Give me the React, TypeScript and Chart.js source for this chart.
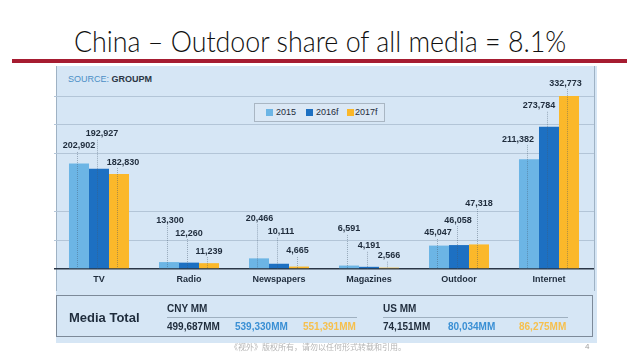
import React, { useEffect, useRef } from "react";
import { Chart, registerables } from "chart.js";

Chart.register(...registerables);

const categories = ["TV", "Radio", "Newspapers", "Magazines", "Outdoor", "Internet"];
const series2015 = [202902, 13300, 20466, 6591, 45047, 211382];
const series2016f = [192927, 12260, 10111, 4191, 46058, 273784];
const series2017f = [182830, 11239, 4665, 2566, 47318, 332773];
const seriesNames = ["2015", "2016f", "2017f"];
const cnyTotals = ["499,687MM", "539,330MM", "551,391MM"];
const usTotals = ["74,151MM", "80,034MM", "86,275MM"];
const titleText = "China – Outdoor share of all media = 8.1%";
const footerText = "《视外》版权所有，请勿以任何形式转载和引用。";

// label placement styles (pixel lift above bar top, horizontal nudge)
const labelLift = [
  [17.6, 42, 40, 36.6, 12.6, 20],
  [35, 29.6, 32, 21, 25, 21],
  [12, 12, 15.6, 12, 41.4, 13],
];
const labelNudge = [
  [0, 1, 0.5, 0, -1, -11],
  [3, 0, 2, 0, -1, -10],
  [4, 0, -1.5, 0, 0, -3.5],
];

const colors = ["#6cb5e5", "#1d70c2", "#fbb82a"];
const navy = "#1f2c3c";
const chartFont = "'Liberation Sans', Arial, sans-serif";

const fmt = (v: number) => v.toLocaleString("en-US");

const labelPlugin = {
  id: "valueLabels",
  afterDatasetsDraw(chart: any) {
    const ctx = chart.ctx;
    const bottom = chart.chartArea.bottom;
    ctx.save();
    chart.data.datasets.forEach((ds: any, i: number) => {
      const meta = chart.getDatasetMeta(i);
      meta.data.forEach((bar: any, j: number) => {
        const x = bar.x + labelNudge[i][j];
        const y = bar.y - labelLift[i][j];
        ctx.beginPath();
        ctx.setLineDash([1, 1]);
        ctx.strokeStyle = "rgba(70,90,110,0.55)";
        ctx.lineWidth = 0.8;
        ctx.moveTo(bar.x - 1.5, y + 6);
        ctx.lineTo(bar.x - 1.5, bottom);
        ctx.stroke();
        ctx.setLineDash([]);
        ctx.fillStyle = navy;
        ctx.font = `bold 9px ${chartFont}`;
        ctx.textAlign = "center";
        ctx.textBaseline = "middle";
        ctx.fillText(fmt(ds.data[j]), x, y);
      });
    });
    ctx.restore();
  },
};

function Txt(props: { x: number; cy: number; size: number; color?: string; bold?: boolean; children: any; family?: string }) {
  const h = props.size * 1.4;
  return (
    <div
      style={{
        position: "absolute",
        left: props.x,
        top: props.cy - h / 2,
        lineHeight: `${h}px`,
        fontSize: props.size,
        fontWeight: props.bold ? 700 : 400,
        color: props.color || navy,
        fontFamily: props.family || chartFont,
        whiteSpace: "nowrap",
      }}
    >
      {props.children}
    </div>
  );
}

export default function App() {
  const ref = useRef<HTMLCanvasElement | null>(null);
  useEffect(() => {
    if (!ref.current) return;
    const seriesData = [series2015, series2016f, series2017f];
    const chart = new Chart(ref.current, {
      type: "bar",
      data: {
        labels: categories,
        datasets: seriesNames.map((n, i) => ({
          label: n,
          data: seriesData[i],
          backgroundColor: colors[i],
          borderWidth: 0,
          categoryPercentage: 0.667,
          barPercentage: 1,
        })),
      },
      options: {
        animation: false,
        responsive: false,
        maintainAspectRatio: false,
        devicePixelRatio: 1,
        layout: { padding: { left: 54, right: 46, top: 96, bottom: 0 } },
        plugins: { legend: { display: false }, tooltip: { enabled: false } },
        scales: {
          x: {
            grid: { display: false, drawTicks: false },
            border: { display: false },
            ticks: { color: navy, font: { family: chartFont, size: 9, weight: "bold" }, padding: 5 },
            afterFit: (s: any) => {
              s.height = 31;
            },
          },
          y: {
            min: 0,
            max: 333000,
            ticks: { display: false, stepSize: 55500 },
            border: { display: false },
            grid: {
              drawTicks: false,
              color: (c: any) => {
                const v = c.tick ? c.tick.value : -1;
                if (v === 0) return "#2a3646";
                if (v === 166500) return "rgba(0,0,0,0)";
                return "#b3c5d7";
              },
              lineWidth: (c: any) => (c.tick && c.tick.value === 0 ? 1.6 : 1),
            },
            afterFit: (s: any) => {
              s.width = 0;
            },
          },
        },
      },
      plugins: [labelPlugin],
    } as any);
    return () => chart.destroy();
  }, []);

  const legendX = [266, 306, 347];
  const legendTextX = [276, 316, 355];

  return (
    <div style={{ position: "fixed", left: 0, top: 0, width: 640, height: 360, background: "#ffffff", overflow: "hidden" }}>
      <div
        style={{
          position: "absolute",
          left: 0,
          width: 640,
          top: 21,
          lineHeight: "40px",
          textAlign: "center",
          fontFamily: "Lato, sans-serif",
          fontWeight: 300,
          fontSize: 29,
          color: "#111111",
          whiteSpace: "nowrap",
          transform: "scaleX(0.925)",
          transformOrigin: "321px 20px",
        }}
      >
        {titleText}
      </div>
      <div style={{ position: "absolute", left: 12, top: 59, width: 615, height: 4, background: "#a61c31" }} />
      <div style={{ position: "absolute", left: 56, top: 66, width: 541, height: 277, background: "#d6e6f5" }} />
      <div style={{ position: "absolute", left: 56, top: 66, width: 1, height: 225, background: "#9fb2c4" }} />
      <div style={{ position: "absolute", left: 594, top: 66, width: 1, height: 225, background: "#9fb2c4" }} />
      <div style={{ position: "absolute", left: 68, top: 72, lineHeight: "14px", fontSize: 9, fontFamily: chartFont, whiteSpace: "nowrap" }}>
        <span style={{ color: "#4b8fc6" }}>SOURCE: </span>
        <span style={{ color: "#2b3544", fontWeight: 700 }}>GROUPM</span>
      </div>
      <canvas ref={ref} width={640} height={300} style={{ position: "absolute", left: 0, top: 0, width: 640, height: 300 }} />
      <div
        style={{
          position: "absolute",
          left: 254,
          top: 103,
          width: 131,
          height: 19,
          boxSizing: "border-box",
          border: "1px solid #a9b6c3",
          background: "#dbe8f5",
        }}
      />
      {seriesNames.map((n, i) => (
        <React.Fragment key={n}>
          <div style={{ position: "absolute", left: legendX[i], top: 109, width: 7, height: 7, background: colors[i] }} />
          <Txt x={legendTextX[i]} cy={112.5} size={9}>
            {n}
          </Txt>
        </React.Fragment>
      ))}
      <div
        style={{
          position: "absolute",
          left: 56,
          top: 295,
          width: 537,
          height: 42,
          boxSizing: "border-box",
          border: "1px solid #7d8a99",
        }}
      />
      <Txt x={69} cy={318} size={13} bold>
        Media Total
      </Txt>
      <Txt x={167} cy={309} size={10} bold>
        CNY MM
      </Txt>
      <div style={{ position: "absolute", left: 167, top: 317, width: 190, height: 1, background: "#9fb0c0" }} />
      <Txt x={383} cy={309} size={10} bold>
        US MM
      </Txt>
      <div style={{ position: "absolute", left: 383, top: 317, width: 185, height: 1, background: "#9fb0c0" }} />
      {cnyTotals.map((t, i) => (
        <Txt key={t} x={[167, 235, 303][i]} cy={327} size={10} bold color={[navy, "#3a8fd4", "#f6c04e"][i]}>
          {t}
        </Txt>
      ))}
      {usTotals.map((t, i) => (
        <Txt key={t} x={[383, 448, 519][i]} cy={327} size={10} bold color={[navy, "#3a8fd4", "#f6c04e"][i]}>
          {t}
        </Txt>
      ))}
      <div
        style={{
          position: "absolute",
          left: 0,
          width: 636,
          top: 340,
          lineHeight: "14px",
          textAlign: "center",
          fontSize: 8,
          color: "#b4b4b4",
          fontFamily: "'Noto Sans CJK SC', sans-serif",
          whiteSpace: "nowrap",
        }}
      >
        {footerText}
      </div>
      <Txt x={585} cy={347} size={8} color="#a0a0a0">
        4
      </Txt>
    </div>
  );
}
